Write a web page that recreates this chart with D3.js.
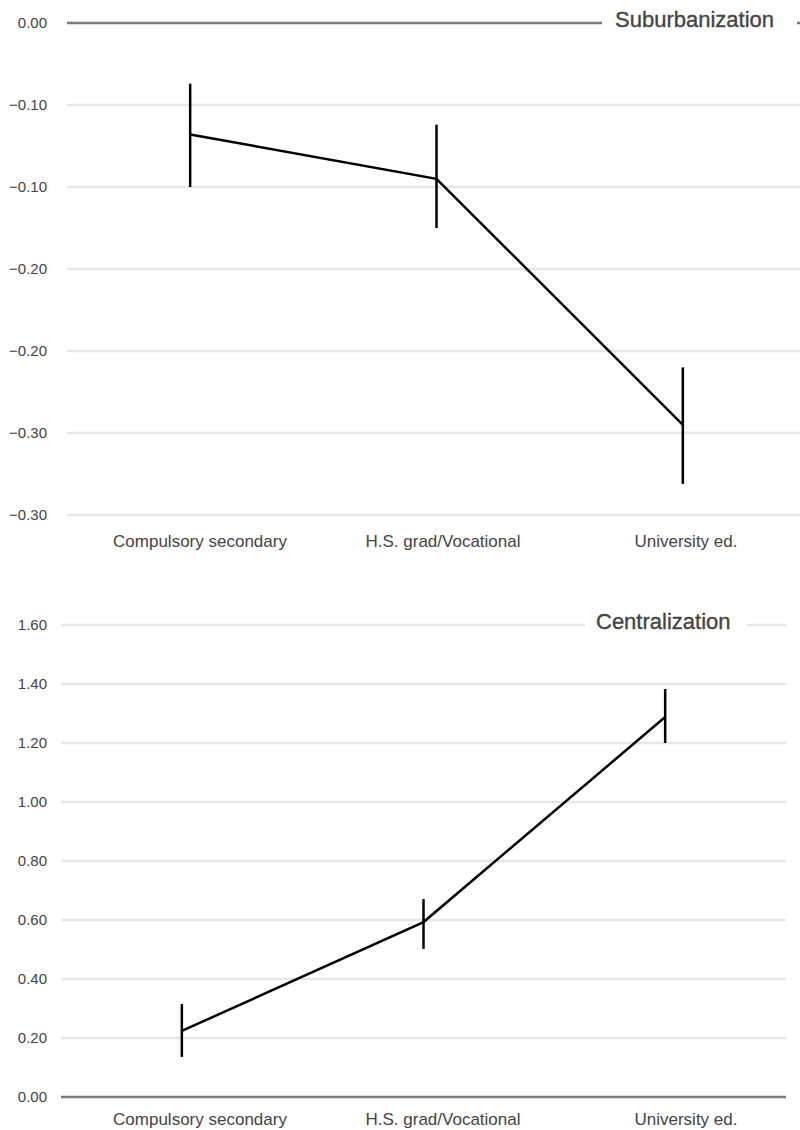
<!DOCTYPE html>
<html>
<head>
<meta charset="utf-8">
<script src="https://cdn.jsdelivr.net/npm/d3@7"></script>
<style>
  body { margin: 0; background: #fff; }
  svg { display: block; font-family: "Liberation Sans", Arial, Helvetica, sans-serif; }
</style>
</head>
<body>
<script>
// education categories, shared by both panels
var categories = ["Compulsory secondary", "H.S. grad/Vocational", "University ed."];

// suburbanization panel
var suburbMean = [-0.068, -0.095, -0.245];
var suburbLow = [-0.100, -0.125, -0.281];
var suburbHigh = [-0.037, -0.062, -0.210];
var suburbTicks = [0, -0.05, -0.10, -0.15, -0.20, -0.25, -0.30];
var suburbTickLabels = ["0.00", "\u22120.10", "\u22120.10", "\u22120.20", "\u22120.20", "\u22120.30", "\u22120.30"];

// centralization panel
var centralMean = [0.224, 0.593, 1.288];
var centralLow = [0.136, 0.502, 1.200];
var centralHigh = [0.315, 0.671, 1.383];
var centralTicks = [0, 0.2, 0.4, 0.6, 0.8, 1.0, 1.2, 1.4, 1.6];
var centralTickLabels = ["0.00", "0.20", "0.40", "0.60", "0.80", "1.00", "1.20", "1.40", "1.60"];

var width = 800, height = 1130;

var svg = d3.select('body').append('svg')
  .attr('width', width)
  .attr('height', height);

// labels sit at the same spot under both panels
var labelX = d3.scalePoint().domain(categories).range([200, 686]);

var drawPanel = function(p) {
  var g = svg.append('g');
  var x = d3.scaleBand().domain(categories).range(p.xRange);
  var y = d3.scaleLinear().domain(p.yDomain).range(p.yRange);

  var rows = categories.map(function(c, i) {
    return { cat: c, mean: p.mean[i], low: p.low[i], high: p.high[i] };
  });

  // grid
  g.selectAll('line.grid').data(p.ticks).enter().append('line')
    .attr('class', 'grid')
    .attr('x1', p.xRange[0])
    .attr('x2', p.gridEnd)
    .attr('y1', function(d) { return y(d); })
    .attr('y2', function(d) { return y(d); })
    .attr('stroke', function(d) { return d === 0 ? '#7a7a7a' : '#e6e6e6'; })
    .attr('stroke-width', 2.5);

  // tick labels
  g.selectAll('text.tick').data(p.ticks).enter().append('text')
    .attr('class', 'tick')
    .attr('x', 47)
    .attr('y', function(d) { return y(d); })
    .attr('dy', '0.36em')
    .attr('text-anchor', 'end')
    .attr('font-size', 15)
    .attr('fill', '#444')
    .text(function(d, i) { return p.tickLabels[i]; });

  // title over the top grid line, with a white gap
  var ty = y(p.titleAt);
  g.append('rect')
    .attr('x', p.gap[0])
    .attr('y', ty - 14)
    .attr('width', p.gap[1] - p.gap[0])
    .attr('height', 28)
    .attr('fill', '#fff');
  g.append('text')
    .attr('x', p.titleX)
    .attr('y', ty + 4)
    .attr('font-size', 22)
    .attr('fill', '#444')
    .attr('stroke', '#444')
    .attr('stroke-width', 0.35)
    .text(p.title);

  // category labels
  g.selectAll('text.cat').data(categories).enter().append('text')
    .attr('class', 'cat')
    .attr('x', function(d) { return labelX(d); })
    .attr('y', p.labelY)
    .attr('text-anchor', 'middle')
    .attr('font-size', 17)
    .attr('fill', '#444')
    .text(function(d) { return d; });

  // error bars
  g.selectAll('line.err').data(rows).enter().append('line')
    .attr('class', 'err')
    .attr('x1', function(d) { return x(d.cat) + x.bandwidth() / 2; })
    .attr('x2', function(d) { return x(d.cat) + x.bandwidth() / 2; })
    .attr('y1', function(d) { return y(d.low); })
    .attr('y2', function(d) { return y(d.high); })
    .attr('stroke', '#000')
    .attr('stroke-width', 2.5);

  // mean line
  var line = d3.line()
    .x(function(d) { return x(d.cat) + x.bandwidth() / 2; })
    .y(function(d) { return y(d.mean); });
  g.append('path')
    .datum(rows)
    .attr('d', line)
    .attr('fill', 'none')
    .attr('stroke', '#000')
    .attr('stroke-width', 2.5);
};

drawPanel({
  title: 'Suburbanization',
  mean: suburbMean, low: suburbLow, high: suburbHigh,
  ticks: suburbTicks, tickLabels: suburbTickLabels,
  xRange: [67, 806], gridEnd: 806,
  yDomain: [0, -0.30], yRange: [23, 515],
  titleAt: 0, titleX: 615, gap: [602, 797],
  labelY: 547
});

drawPanel({
  title: 'Centralization',
  mean: centralMean, low: centralLow, high: centralHigh,
  ticks: centralTicks, tickLabels: centralTickLabels,
  xRange: [61, 786], gridEnd: 786,
  yDomain: [0, 1.6], yRange: [1097, 625],
  titleAt: 1.6, titleX: 596, gap: [585, 747],
  labelY: 1125
});
</script>
</body>
</html>
